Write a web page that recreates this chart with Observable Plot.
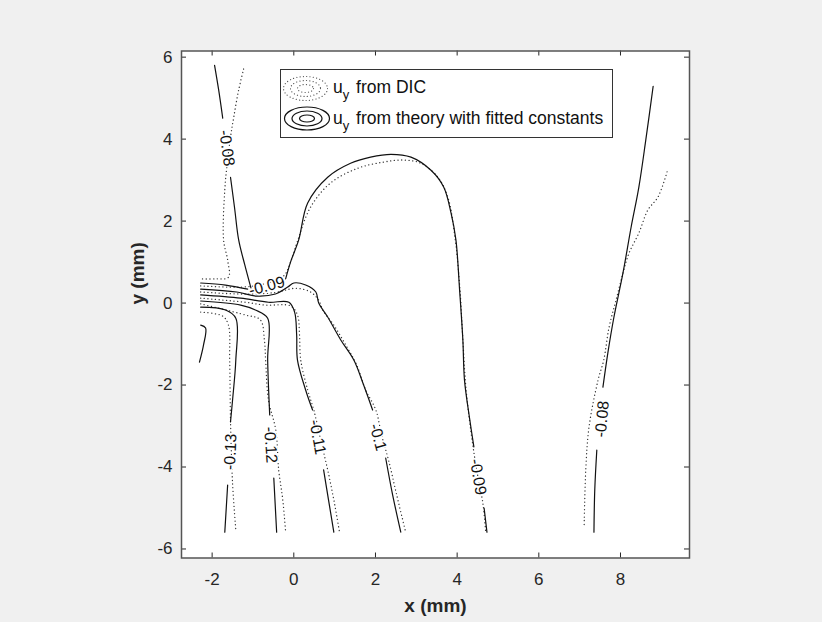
<!DOCTYPE html>
<html><head><meta charset="utf-8">
<script src="https://cdn.jsdelivr.net/npm/d3@7"></script>
<script src="https://cdn.jsdelivr.net/npm/@observablehq/plot@0.6"></script>
<style>
html,body{margin:0;padding:0;background:#f0f0f0;}
#chart{width:822px;height:622px;}
</style></head><body><div id="chart"></div>
<script>
// ---- tick labels / axis ----
const xTicks = [-2, 0, 2, 4, 6, 8];
const yTicks = [-6, -4, -2, 0, 2, 4, 6];
const xDomain = [-2.75, 9.69];
const yDomain = [-6.22, 6.15];

// ---- theory contours (solid), [x mm, y mm]; null = gap where the label sits ----
const thL008 = [[-1.94,5.80],[-1.84,5.20],[-1.74,4.51],null,[-1.55,3.07],[-1.45,2.32],[-1.35,1.54],[-1.20,0.93],[-1.05,0.37]];
const thR008 = [[8.80,5.29],[8.62,3.98],[8.45,2.83],[8.26,1.85],[8.06,0.73],[7.84,-0.34],[7.69,-1.22],[7.57,-2.05],null,[7.42,-3.59],[7.37,-4.56],[7.35,-5.59]];
const th009 = [[-2.28,0.49],[-1.67,0.44],[-1.13,0.34],null,[-0.20,0.59],[-0.08,1.00],[0.12,1.54],[0.34,2.44],[0.83,3.07],[1.39,3.41],[1.88,3.56],[2.38,3.63],[2.87,3.56],[3.36,3.24],[3.67,2.83],[3.85,2.20],[3.97,1.54],[4.06,0.32],[4.14,-0.90],[4.18,-1.88],[4.31,-2.85],[4.41,-3.51],null,[4.66,-5.00],[4.73,-5.59]];
const th010 = [[-2.28,0.34],[-1.40,0.27],[-0.90,0.17],[-0.45,0.22],[-0.15,0.39],[0.00,0.49],[0.29,0.44],[0.54,0.27],[0.61,0.00],[0.83,-0.34],[1.15,-0.90],[1.47,-1.39],[1.71,-2.00],[1.93,-2.61],null,[2.25,-3.78],[2.42,-4.68],[2.62,-5.59]];
const th011 = [[-2.28,0.20],[-1.30,0.12],[-0.62,0.02],[-0.12,0.02],[0.02,-0.22],[0.07,-0.78],[0.09,-1.39],[0.29,-2.12],[0.46,-2.61],null,[0.73,-4.07],[0.85,-4.80],[0.98,-5.59]];
const th012 = [[-2.28,0.05],[-1.30,-0.05],[-0.94,-0.17],[-0.64,-0.37],[-0.64,-1.39],[-0.59,-2.73],null,[-0.49,-4.27],[-0.42,-5.59]];
const th013 = [[-2.28,-0.10],[-1.67,-0.17],[-1.42,-0.37],[-1.42,-1.39],[-1.50,-2.37],[-1.55,-2.90],null,[-1.62,-4.44],[-1.69,-5.59]];
const th014 = [[-2.28,-0.54],[-2.16,-0.61],[-2.21,-1.02],[-2.31,-1.44]];

// ---- DIC contours (dotted) ----
const dicL008 = [[-1.23,5.71],[-1.35,5.20],[-1.47,4.54],[-1.55,4.05],[-1.64,3.32],[-1.69,2.76],[-1.72,1.54],[-1.62,1.05],[-1.60,0.63],[-1.91,0.59],[-2.28,0.59]];
const dicR008 = [[9.14,3.20],[8.92,2.59],[8.67,2.27],[8.45,1.71],[8.21,1.22],[8.06,0.73],[7.89,0.07],[7.72,-0.59],[7.59,-1.39],[7.45,-1.88],[7.23,-3.02],[7.15,-4.07],[7.11,-5.46]];
const dic009 = [[-2.28,0.42],[-1.30,0.39],[-0.76,0.46],[-0.25,0.66],[-0.08,1.00],[0.10,1.54],[0.41,2.34],[0.90,2.93],[1.57,3.29],[2.20,3.44],[2.69,3.49],[3.11,3.41],[3.53,3.07],[3.77,2.59],[3.94,1.66],[4.07,0.32],[4.14,-0.90],[4.22,-2.12],[4.39,-3.51],[4.51,-4.24],[4.63,-4.88],[4.70,-5.59]];
const dic010 = [[-2.28,0.27],[-1.19,0.22],[-0.44,0.26],[0.05,0.36],[0.41,0.27],[0.61,0.07],[0.71,-0.17],[0.98,-0.54],[1.27,-1.02],[1.54,-1.51],[1.76,-2.12],[2.01,-2.61],[2.15,-3.22],[2.32,-3.83],[2.52,-4.68],[2.74,-5.59]];
const dic011 = [[-2.28,0.12],[-1.19,0.02],[-0.69,-0.05],[-0.08,-0.07],[0.09,-0.29],[0.14,-0.78],[0.17,-1.39],[0.34,-2.12],[0.49,-2.61],[0.66,-3.34],[0.83,-4.07],[0.98,-4.80],[1.12,-5.59]];
const dic012 = [[-2.28,-0.02],[-1.19,-0.29],[-0.82,-0.41],[-0.72,-0.90],[-0.69,-1.39],[-0.62,-2.37],[-0.44,-3.10],[-0.37,-4.07],[-0.27,-4.80],[-0.20,-5.59]];
const dic013 = [[-2.28,-0.22],[-1.74,-0.32],[-1.60,-0.54],[-1.57,-1.39],[-1.55,-2.85],[-1.50,-4.39],[-1.42,-5.54]];

// ---- contour labels ----
const labelLevel = [-0.08, -0.09, -0.09, -0.1, -0.11, -0.12, -0.13, -0.08];
const labelX = [-1.64, -0.66, 4.51, 2.06, 0.58, -0.57, -1.55, 7.55];
const labelY = [3.78, 0.41, -4.24, -3.27, -3.27, -3.46, -3.63, -2.83];
const labelOn = ["thL008", "th009", "th009", "th010", "th011", "th012", "th013", "thR008"];

// ---- legend texts ----
const legendNames = ["from DIC", "from theory with fitted constants"];

const theory = {thL008, thR008, th009, th010, th011, th012, th013, th014};
const dic = {dicL008, dicR008, dic009, dic010, dic011, dic012, dic013};

function toRows(obj) {
  const out = [];
  for (const [id, pts] of Object.entries(obj)) {
    for (const p of pts) out.push(p ? {id, x: p[0], y: p[1]} : {id, x: NaN, y: NaN});
  }
  return out;
}
const theoryRows = toRows(theory);
const dicRows = toRows(dic);

const W = 822, H = 622;
const mL = 181, mR = 133, mT = 50.5, mB = 64.5;
const pxPerX = (W - mL - mR) / (xDomain[1] - xDomain[0]);
const pxPerY = (H - mT - mB) / (yDomain[1] - yDomain[0]);

// rotation of each label follows the broken line it sits on
const labels = labelLevel.map((lv, i) => {
  const pts = theory[labelOn[i]];
  let best = null, bd = Infinity;
  pts.forEach((p, k) => {
    if (p === null) {
      const a = pts[k - 1], b = pts[k + 1];
      const mx = (a[0] + b[0]) / 2, my = (a[1] + b[1]) / 2;
      const d = (mx - labelX[i]) ** 2 + (my - labelY[i]) ** 2;
      if (d < bd) { bd = d; best = [a, b]; }
    }
  });
  let ang = Math.atan2(-(best[1][1] - best[0][1]) * pxPerY, (best[1][0] - best[0][0]) * pxPerX) * 180 / Math.PI;
  if (ang > 90) ang -= 180;
  if (ang < -90) ang += 180;
  return {text: String(lv), x: labelX[i], y: labelY[i], rot: ang};
});

const font = "'Liberation Sans', Arial, Helvetica, sans-serif";
const axisColor = "#262626";

const plot = Plot.plot({
  width: W, height: H,
  marginLeft: mL, marginRight: mR, marginTop: mT, marginBottom: mB,
  x: {domain: xDomain},
  y: {domain: yDomain},
  style: {background: "#f0f0f0", fontFamily: font, color: axisColor, overflow: "visible"},
  marks: [
    Plot.frame({fill: "white", stroke: "none"}),
    Plot.line(dicRows, {x: "x", y: "y", z: "id", stroke: "#333", strokeWidth: 1.3, strokeDasharray: "0.1 3.6", strokeLinecap: "round", curve: "catmull-rom"}),
    Plot.line(theoryRows, {x: "x", y: "y", z: "id", stroke: "#111", strokeWidth: 1.2, curve: "catmull-rom"}),
    Plot.text(labels, {x: "x", y: "y", text: "text", rotate: "rot", fontSize: 16, fill: "#111", stroke: "white", strokeWidth: 3}),
    Plot.tickX(xTicks, {x: d => d, insetTop: 502, stroke: axisColor}),
    Plot.tickX(xTicks, {x: d => d, insetBottom: 502, stroke: axisColor}),
    Plot.tickY(yTicks, {y: d => d, insetRight: 503, stroke: axisColor}),
    Plot.tickY(yTicks, {y: d => d, insetLeft: 503, stroke: axisColor}),
    Plot.axisX(xTicks, {tickSize: 0, tickPadding: 15, fontSize: 17, tickFormat: d => String(d), label: null, fill: axisColor}),
    Plot.axisY(yTicks, {tickSize: 0, tickPadding: 9, fontSize: 17, tickFormat: d => String(d), label: null, fill: axisColor}),
    Plot.text(["x (mm)"], {frameAnchor: "bottom", dy: 54, text: d => d, fontSize: 19, fontWeight: "bold", fill: axisColor}),
    Plot.text(["y (mm)"], {frameAnchor: "left", dx: -44, rotate: -90, text: d => d, fontSize: 19, fontWeight: "bold", fill: axisColor}),
    Plot.frame({stroke: "#555", strokeWidth: 1.5})
  ]
});
document.getElementById("chart").appendChild(plot);

// ---- legend box (inside the axes, top) ----
const svg = d3.select(plot);
const lg = svg.append("g").attr("font-family", font).attr("text-anchor", "start");
lg.append("rect").attr("x", 280.5).attr("y", 69.5).attr("width", 332).attr("height", 68)
  .attr("fill", "white").attr("stroke", "#333").attr("stroke-width", 1);
// dotted icon
[[22, 12], [15, 8], [8, 4]].forEach(([rx, ry]) => {
  lg.append("ellipse").attr("cx", 305.5).attr("cy", 88.5).attr("rx", rx).attr("ry", ry)
    .attr("fill", "none").attr("stroke", "#555").attr("stroke-width", 1.2)
    .attr("stroke-dasharray", "0.1 3.2").attr("stroke-linecap", "round");
});
// solid icon
[[22.5, 11.5], [15, 7.5], [7.5, 3.5]].forEach(([rx, ry]) => {
  lg.append("ellipse").attr("cx", 307).attr("cy", 118.5).attr("rx", rx).attr("ry", ry)
    .attr("fill", "none").attr("stroke", "#111").attr("stroke-width", 1.2);
});
legendNames.forEach((name, i) => {
  const t = lg.append("text").attr("x", 333).attr("y", 93 + i * 31).attr("font-size", 17.5).attr("fill", "#111");
  t.append("tspan").text("u");
  t.append("tspan").attr("dy", 6).attr("font-size", 13).text("y");
  t.append("tspan").attr("dy", -6).attr("dx", 2).text(" " + name);
});
</script>
</body></html>
